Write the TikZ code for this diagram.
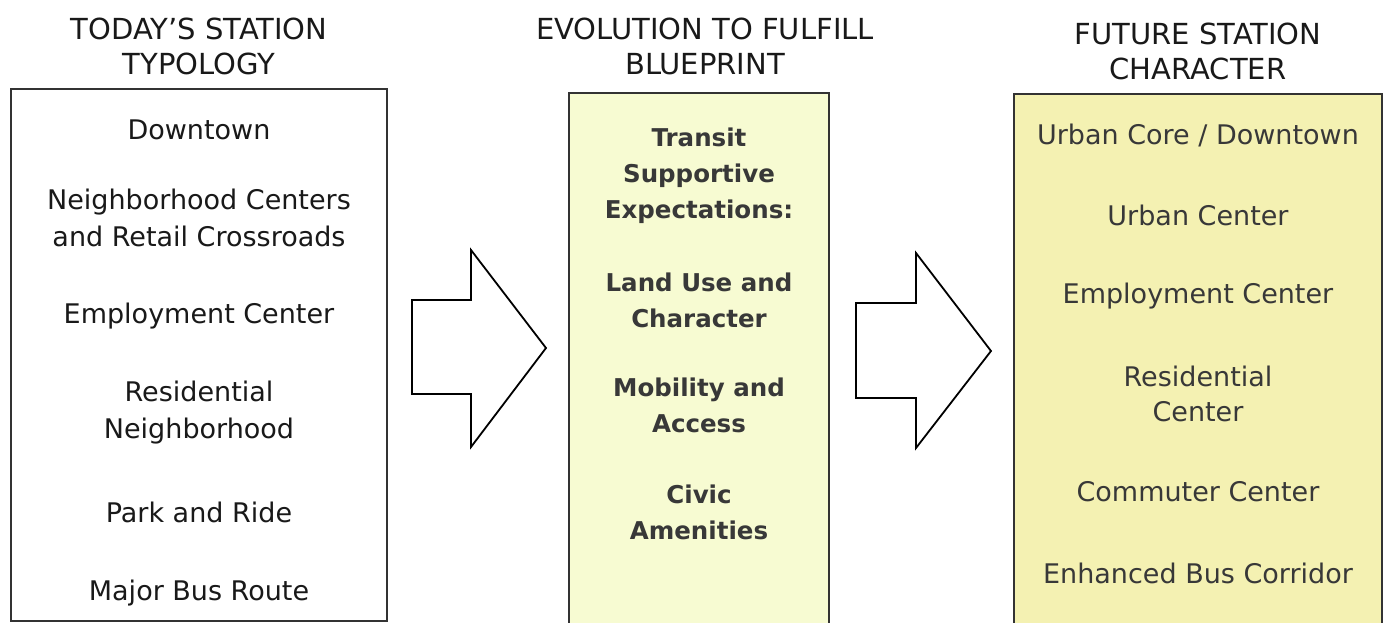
\documentclass[tikz,border=0pt]{standalone}
\usepackage{fontspec}
\setmainfont{DejaVu Sans}
\begin{document}
\begin{tikzpicture}[x=1pt,y=-1pt,
  boxframe/.style={draw=black!80,line width=1.8pt},
  hdr/.style={align=center,font=\fontsize{29}{35}\selectfont,text=black!90},
  itemA/.style={align=center,font=\fontsize{27}{37}\selectfont,text=black!90},
  itemB/.style={align=center,font=\bfseries\fontsize{24.5}{36}\selectfont,text=txtgray},
  itemC/.style={align=center,font=\fontsize{27}{35}\selectfont,text=txtgray},
  blockarrow/.style={draw=black,line width=1.8pt,fill=white,line join=miter}]
\definecolor{paleyellow}{HTML}{F7FBD2}
\definecolor{deepyellow}{HTML}{F4F1B2}
\definecolor{txtgray}{HTML}{383838}
\useasboundingbox (0,0) rectangle (1387,623);
\clip (0,0) rectangle (1387,623);
\fill[white] (0,0) rectangle (1387,623);
% boxes
\draw[boxframe,fill=white] (11,89) rectangle (387,621);
\draw[boxframe,fill=paleyellow] (569,93) rectangle (829,640);
\draw[boxframe,fill=deepyellow] (1014,94) rectangle (1382,640);
% block arrows
\draw[blockarrow] (412,300) -- (471,300) -- (471,250) -- (546,348) -- (471,447) -- (471,394) -- (412,394) -- cycle;
\draw[blockarrow] (856,303) -- (916,303) -- (916,253) -- (991,351) -- (916,448) -- (916,398) -- (856,398) -- cycle;
% headers
\node[hdr] (h1) at (199,46) {TODAY'S STATION\\TYPOLOGY};
\node[hdr] (h2) at (705,46) {EVOLUTION TO FULFILL\\BLUEPRINT};
\node[hdr] (h3) at (1198,51) {FUTURE STATION\\CHARACTER};
% box 1
\node[itemA] (a1) at (199,130) {Downtown};
\node[itemA] (a2) at (199,218) {Neighborhood Centers\\and Retail Crossroads};
\node[itemA] (a3) at (199,316) {Employment Center};
\node[itemA] (a4) at (199,413) {Residential\\Neighborhood};
\node[itemA] (a5) at (199,512) {Park and Ride};
\node[itemA] (a6) at (199,593) {Major Bus Route};
% box 2
\node[itemB] (m1) at (699,176) {Transit\\Supportive\\Expectations:};
\node[itemB] (m2) at (699,300) {Land Use and\\Character};
\node[itemB] (m3) at (699,405) {Mobility and\\Access};
\node[itemB] (m4) at (699,512) {Civic\\Amenities};
% box 3
\node[itemC] (c1) at (1198,135) {Urban Core / Downtown};
\node[itemC] (c2) at (1198,215) {Urban Center};
\node[itemC] (c3) at (1198,296) {Employment Center};
\node[itemC] (c4) at (1198,394) {Residential\\Center};
\node[itemC] (c5) at (1198,492) {Commuter Center};
\node[itemC] (c6) at (1198,573) {Enhanced Bus Corridor};
\end{tikzpicture}
\end{document}
